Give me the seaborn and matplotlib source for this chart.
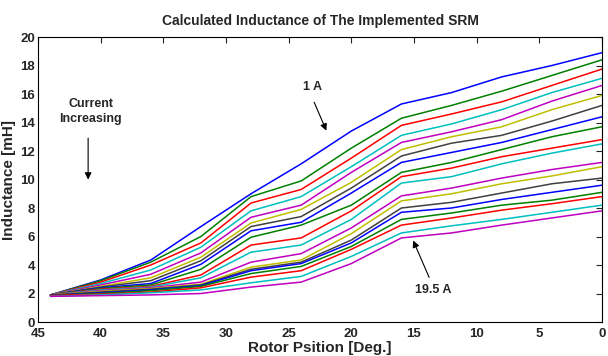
import matplotlib
matplotlib.use("Agg")
import matplotlib.pyplot as plt
import seaborn as sns
import pandas as pd
from matplotlib import font_manager

# ---------------- data ----------------
rotor_pos = [44, 40, 36, 32, 28, 24, 20, 16, 12, 8, 4, 0]
currents = [1, 2, 3, 4, 5, 6, 7, 8, 9, 10, 11, 12, 13, 14, 15, 16, 17, 18, 19.5]

L01 = [1.9, 2.95, 4.35, 6.7, 9.0, 11.1, 13.4, 15.3, 16.1, 17.2, 18.0, 18.9]
L02 = [1.9, 2.9, 4.2, 6.0, 8.8, 9.9, 12.2, 14.3, 15.2, 16.2, 17.3, 18.4]
L03 = [1.9, 2.8, 4.0, 5.55, 8.35, 9.3, 11.5, 13.8, 14.6, 15.45, 16.6, 17.75]
L04 = [1.9, 2.7, 3.65, 5.25, 7.8, 8.8, 10.9, 13.1, 13.9, 14.9, 16.1, 17.1]
L05 = [1.9, 2.6, 3.35, 4.85, 7.35, 8.2, 10.5, 12.6, 13.35, 14.2, 15.5, 16.6]
L06 = [1.9, 2.5, 3.1, 4.55, 6.95, 7.9, 9.8, 12.1, 13.0, 13.7, 14.9, 15.9]
L07 = [1.9, 2.45, 2.9, 4.3, 6.7, 7.4, 9.4, 11.65, 12.55, 13.1, 14.1, 15.2]
L08 = [1.9, 2.4, 2.7, 4.05, 6.4, 7.0, 9.05, 11.2, 11.9, 12.6, 13.5, 14.4]
L09 = [1.9, 2.35, 2.6, 3.7, 5.95, 6.8, 8.2, 10.5, 11.2, 12.1, 13.0, 13.7]
L10 = [1.9, 2.3, 2.5, 3.3, 5.4, 5.9, 7.8, 10.2, 10.8, 11.6, 12.2, 12.8]
L11 = [1.9, 2.25, 2.45, 3.1, 4.9, 5.4, 7.2, 9.75, 10.2, 11.1, 11.85, 12.5]
L12 = [1.9, 2.2, 2.4, 2.8, 4.2, 4.8, 6.6, 8.85, 9.4, 10.1, 10.7, 11.2]
L13 = [1.9, 2.15, 2.35, 2.65, 3.85, 4.35, 6.2, 8.5, 9.0, 9.7, 10.25, 10.9]
L14 = [1.9, 2.1, 2.3, 2.6, 3.7, 4.2, 5.75, 8.0, 8.4, 9.05, 9.7, 10.1]
L15 = [1.85, 2.05, 2.25, 2.55, 3.6, 4.1, 5.55, 7.7, 8.0, 8.6, 9.1, 9.6]
L16 = [1.85, 2.0, 2.2, 2.5, 3.4, 3.9, 5.3, 7.2, 7.65, 8.2, 8.55, 9.1]
L17 = [1.85, 1.95, 2.1, 2.4, 3.15, 3.6, 5.1, 6.8, 7.3, 7.85, 8.3, 8.8]
L18 = [1.8, 1.9, 2.05, 2.25, 2.75, 3.2, 4.6, 6.25, 6.75, 7.2, 7.7, 8.2]
L19 = [1.8, 1.85, 1.9, 2.0, 2.45, 2.8, 4.1, 5.9, 6.25, 6.8, 7.3, 7.8]

curves = [L01, L02, L03, L04, L05, L06, L07, L08, L09, L10,
          L11, L12, L13, L14, L15, L16, L17, L18, L19]

x_ticks = [45, 40, 35, 30, 25, 20, 15, 10, 5, 0]
y_ticks = [0, 2, 4, 6, 8, 10, 12, 14, 16, 18, 20]

# ---------------- style ----------------
sns.set_style("white")
names = {f.name for f in font_manager.fontManager.ttflist}
narrow = "Liberation Sans Narrow" if "Liberation Sans Narrow" in names else "Liberation Sans"
plt.rcParams["font.family"] = [narrow, "DejaVu Sans"]

matlab = [(0, 0, 1), (0, 0.5, 0), (1, 0, 0), (0, 0.75, 0.75),
          (0.75, 0, 0.75), (0.75, 0.75, 0), (0.25, 0.25, 0.25)]
palette = [matlab[i % 7] for i in range(len(currents))]

rows = []
for cur, vals in zip(currents, curves):
    for xp, v in zip(rotor_pos, vals):
        rows.append({"pos": xp, "L": v, "I": str(cur)})
df = pd.DataFrame(rows)

fig = plt.figure(figsize=(6.08, 3.56), dpi=100)
ax = fig.add_axes([0.0625, 0.0955, 0.9275, 0.8005])

sns.lineplot(data=df, x="pos", y="L", hue="I", palette=palette,
             hue_order=[str(c) for c in currents], legend=False,
             linewidth=1.1, ax=ax, estimator=None, sort=True)

ax.set_xlim(45, 0)
ax.set_ylim(0, 20)
ax.set_xticks(x_ticks)
ax.set_yticks(y_ticks)
for s in ax.spines.values():
    s.set_visible(True)
    s.set_color("black")
    s.set_linewidth(0.8)
ax.tick_params(direction="in", top=True, right=True, length=4, width=0.8,
               labelsize=9.5)
ax.tick_params(axis="x", pad=4)
ax.tick_params(axis="y", pad=2)
for lab in ax.get_xticklabels() + ax.get_yticklabels():
    lab.set_fontweight("bold")

ax.set_xlabel("Rotor Psition [Deg.]", fontsize=11, fontweight="bold", labelpad=1)
ax.set_ylabel("Inductance [mH]", fontsize=11, fontweight="bold", labelpad=3)
ax.set_title("Calculated Inductance of The Implemented SRM",
             fontsize=10, fontweight="bold", pad=9)

# annotations
ax.annotate("", xy=(21.9, 13.25), xytext=(23.05, 15.6),
            arrowprops=dict(arrowstyle="-|>", color="black", lw=0.8,
                            mutation_scale=10))
ax.text(23.1, 16.5, "1 A", ha="center", va="center", fontsize=9,
        fontweight="bold")

ax.annotate("", xy=(15.15, 5.9), xytext=(13.7, 2.95),
            arrowprops=dict(arrowstyle="-|>", color="black", lw=0.8,
                            mutation_scale=10))
ax.text(13.5, 2.25, "19.5 A", ha="center", va="center", fontsize=9,
        fontweight="bold")

ax.text(40.8, 14.75, "Current\nIncreasing", ha="center", va="center",
        fontsize=9, fontweight="bold", linespacing=1.3)
ax.annotate("", xy=(41.0, 9.8), xytext=(41.0, 13.1),
            arrowprops=dict(arrowstyle="-|>", color="black", lw=0.8,
                            mutation_scale=10))

fig.savefig("out.png", dpi=100)
